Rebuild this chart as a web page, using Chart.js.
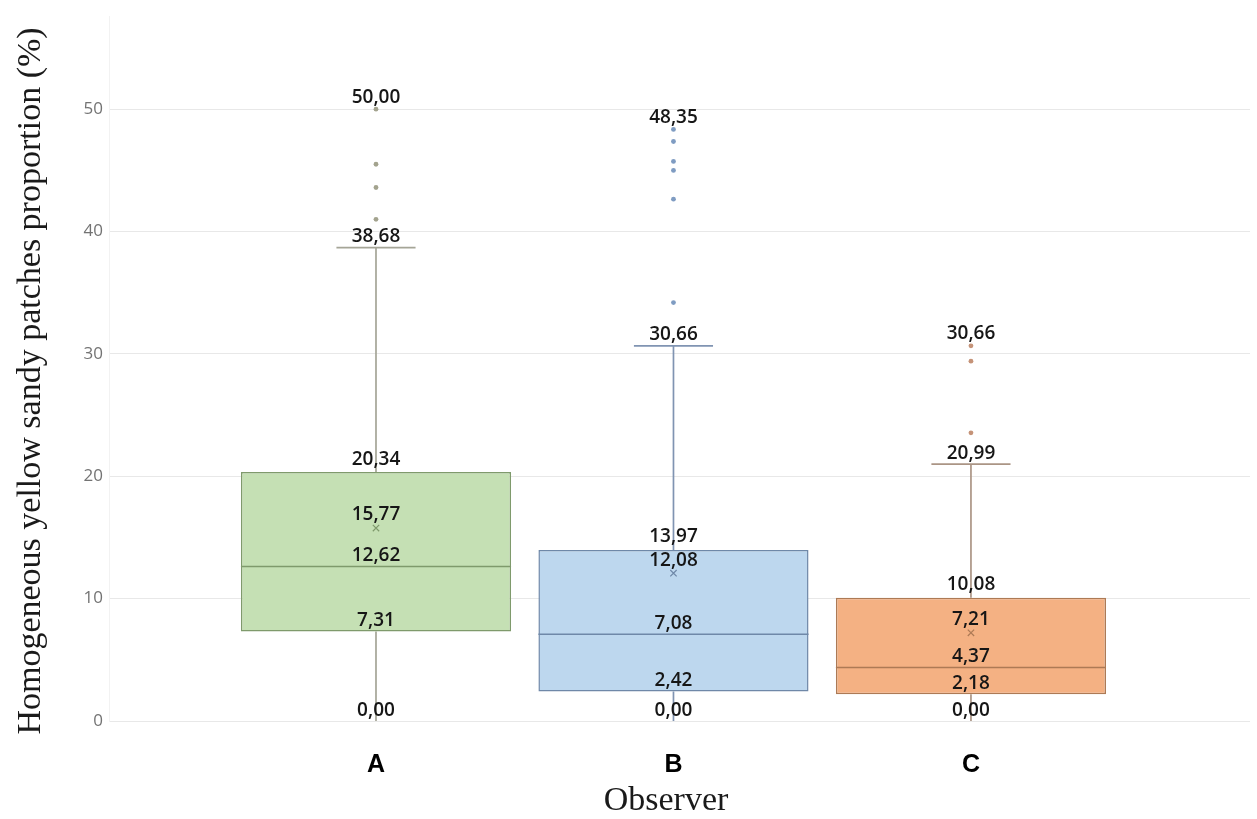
<!DOCTYPE html>
<html lang="en">
<head>
<meta charset="UTF-8">
<title>Observer box plot</title>
<script src="https://cdn.jsdelivr.net/npm/chart.js"></script>
<style>
  html, body { margin: 0; padding: 0; background: #fff; }
  #wrap { width: 1257px; height: 819px; }
</style>
</head>
<body>
<div id="wrap"><canvas id="box-chart" width="1257" height="819"></canvas></div>
<script>
// data
const categories = ['A', 'B', 'C'];
const mins = [0, 0, 0];
const q1s = [7.31, 2.42, 2.18];
const medians = [12.62, 7.08, 4.37];
const q3s = [20.34, 13.97, 10.08];
const whiskerTops = [38.68, 30.66, 20.99];
const means = [15.77, 12.08, 7.21];
const outliersA = [50.00, 45.5, 43.6, 41.0];
const outliersB = [48.35, 47.36, 45.73, 45.0, 42.65, 34.2];
const outliersC = [30.66, 29.41, 23.55];
const outliers = [outliersA, outliersB, outliersC];
const yTicks = [0, 10, 20, 30, 40, 50];

const fills   = ['#c5e0b4', '#bdd7ee', '#f4b183'];
const borders = ['#7f9a6c', '#6f88a8', '#ad7a55'];
const whiskerColors = ['#a5a597', '#8094b2', '#ab9585'];
const dotColors = ['#a3a38e', '#7f9cc2', '#c59378'];

const boxHalf = 0.454;
const capHalf = 0.133;

const datasets = [];

// boxes (floating bars, Q1..Q3)
datasets.push({
    type: 'bar',
    data: categories.map((c, i) => ({ x: i + 1, y: [q1s[i], q3s[i]] })),
    backgroundColor: fills,
    borderColor: borders,
    borderWidth: 1.5,
    borderSkipped: false,
    barPercentage: 0.908,
    categoryPercentage: 1,
    order: 3
});

categories.forEach((c, i) => {
    const x = i + 1;
    // whiskers + top cap
    datasets.push({
        type: 'line',
        data: [
            { x: x, y: mins[i] }, { x: x, y: q1s[i] }, { x: x + 0.001, y: null },
            { x: x, y: q3s[i] }, { x: x, y: whiskerTops[i] }, { x: x + 0.002, y: null },
            { x: x - capHalf, y: whiskerTops[i] }, { x: x + capHalf, y: whiskerTops[i] }
        ],
        borderColor: whiskerColors[i],
        borderWidth: 1.7,
        pointRadius: 0,
        spanGaps: false,
        tension: 0,
        order: 5
    });
    // median
    datasets.push({
        type: 'line',
        data: [{ x: x - boxHalf, y: medians[i] }, { x: x + boxHalf, y: medians[i] }],
        borderColor: borders[i],
        borderWidth: 1.5,
        pointRadius: 0,
        order: 1
    });
    // outliers
    datasets.push({
        type: 'scatter',
        data: outliers[i].map(v => ({ x: x, y: v })),
        backgroundColor: dotColors[i],
        borderWidth: 0,
        pointRadius: 2.4,
        order: 0
    });
    // mean
    datasets.push({
        type: 'scatter',
        data: [{ x: x, y: means[i] }],
        pointStyle: 'crossRot',
        borderColor: borders[i],
        borderWidth: 1.2,
        pointRadius: 4.5,
        order: 0
    });
});

const fmt = v => v.toFixed(2).replace('.', ',');

const valueLabels = {
    id: 'valueLabels',
    afterDatasetsDraw(chart) {
        const ctx = chart.ctx;
        const xs = chart.scales.x, ys = chart.scales.y;
        ctx.save();
        ctx.font = '600 19px "Open Sans", sans-serif';
        ctx.fillStyle = '#161616';
        ctx.textAlign = 'center';
        ctx.textBaseline = 'middle';
        categories.forEach((c, i) => {
            const px = xs.getPixelForValue(i + 1);
            const items = [
                [Math.max(...outliers[i]), 12],
                [whiskerTops[i], 11],
                [q3s[i], 13],
                [means[i], 13],
                [medians[i], 11],
                [q1s[i], 11],
                [mins[i], 10]
            ];
            items.forEach(([v, off]) => {
                ctx.fillText(fmt(v), px, ys.getPixelForValue(v) - off);
            });
        });
        ctx.restore();
    }
};

const axisTitles = {
    id: 'axisTitles',
    afterDraw(chart) {
        const ctx = chart.ctx;
        ctx.save();
        ctx.fillStyle = '#1a1a1a';
        ctx.font = '34px "Liberation Serif", "Times New Roman", serif';
        ctx.textAlign = 'center';
        ctx.textBaseline = 'middle';
        ctx.translate(31, 381);
        ctx.rotate(-Math.PI / 2);
        ctx.fillText('Homogeneous yellow sandy patches proportion (%)', 0, 0);
        ctx.restore();

        ctx.save();
        ctx.fillStyle = '#1a1a1a';
        ctx.font = '34px "Liberation Serif", "Times New Roman", serif';
        ctx.textAlign = 'center';
        ctx.textBaseline = 'middle';
        ctx.fillText('Observer', 666, 801);
        ctx.restore();
    }
};

new Chart(document.getElementById('box-chart'), {
    type: 'bar',
    data: { datasets: datasets },
    options: {
        responsive: false,
        animation: false,
        layout: { padding: { top: 0, right: 7, bottom: 0, left: 0 } },
        plugins: { legend: { display: false }, tooltip: { enabled: false } },
        scales: {
            x: {
                type: 'linear',
                offset: false,
                min: 0.1025,
                max: 3.938,
                grid: { display: false },
                border: { display: false },
                afterBuildTicks: s => { s.ticks = categories.map((c, i) => ({ value: i + 1 })); },
                afterFit: s => { s.height = 98; },
                ticks: {
                    padding: 21,
                    color: '#000',
                    font: { family: '"Liberation Sans", Arial, sans-serif', size: 25, weight: 'bold' },
                    callback: v => categories[v - 1] || ''
                }
            },
            y: {
                type: 'linear',
                min: 0,
                max: 57.6,
                grid: { color: '#e8e8e8', lineWidth: 1, drawTicks: false },
                border: { display: true, color: '#f2f2f2' },
                afterBuildTicks: s => { s.ticks = yTicks.map(v => ({ value: v })); },
                afterFit: s => { s.width = 109; },
                ticks: {
                    padding: 6,
                    color: '#737373',
                    font: { family: '"Open Sans", sans-serif', size: 17 }
                }
            }
        }
    },
    plugins: [valueLabels, axisTitles]
});
</script>
</body>
</html>
